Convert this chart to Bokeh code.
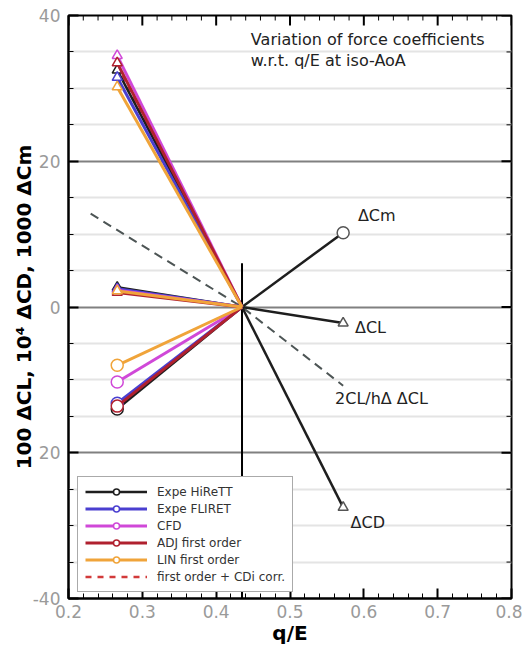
import math
from bokeh.plotting import figure
from bokeh.models import FixedTicker, Legend, LegendItem
from bokeh.core.properties import value
from bokeh.embed import file_html
from bokeh.resources import INLINE

# ---------------- data ----------------
series = ["Expe HiReTT", "Expe FLIRET", "CFD", "ADJ first order", "LIN first order"]
colors = ["#1e1e1e", "#4a3fd0", "#d048d8", "#b0202e", "#f0a43a"]
q_left = 0.266
q_center = 0.435
q_right = 0.572
cd_left = [32.5, 31.5, 34.5, 33.5, 30.2]
cl_left = [2.7, 2.5, 2.3, 2.0, 2.2]
cm_left = [-14.0, -13.2, -10.3, -13.6, -8.0]
right_labels = ["ΔCm", "ΔCL", "ΔCD"]
right_values = [10.2, -2.2, -27.5]
right_markers = ["circle", "triangle", "triangle"]
dash_q = [0.23, 0.435, 0.572]
dash_y = [12.8, 0.0, -10.8]
vline_y = [6.0, -40.0]
corr_label = "first order + CDi corr."
corr_color = "#d23a3a"
corr_cd_left = 33.2
title_lines = ["Variation of force coefficients", "w.r.t. q/E at iso-AoA"]
x_min, x_max = 0.2, 0.8
y_min, y_max = -40, 40
x_ticks = [0.2, 0.3, 0.4, 0.5, 0.6, 0.7, 0.8]
x_minor = [round(0.2 + 0.02 * i, 2) for i in range(31) if i % 5 != 0]
y_ticks = [-40, -20, 0, 20, 40]
y_tick_labels = ["-40", "20", "0", "20", "40"]
y_minor = [v for v in range(-40, 41, 5) if v not in y_ticks]
annot_text = ["ΔCm", "ΔCL", "2CL/hΔ ΔCL", "ΔCD"]
annot_q = [0.592, 0.588, 0.561, 0.582]
annot_y = [12.6, -2.8, -12.6, -29.6]

FONT = "DejaVu Sans"

p = figure(width=522, height=648, x_range=(x_min, x_max), y_range=(y_min, y_max),
           output_backend="svg", toolbar_location=None, title=None,
           min_border_left=68, min_border_right=11, min_border_top=15,
           min_border_bottom=50,
           x_axis_label="q/E", y_axis_label="100 ΔCL, 10⁴ ΔCD, 1000 ΔCm")
p.background_fill_color = "white"
p.border_fill_color = "white"
p.outline_line_color = "black"
p.outline_line_width = 2

xt = FixedTicker(ticks=x_ticks, minor_ticks=x_minor)
yt = FixedTicker(ticks=y_ticks, minor_ticks=y_minor)

for ax in (p.xaxis[0], p.yaxis[0]):
    ax.axis_line_color = "black"
    ax.axis_line_width = 2
    ax.major_tick_in = 10
    ax.major_tick_out = 0
    ax.minor_tick_in = 5
    ax.minor_tick_out = 0
    ax.major_tick_line_color = "black"
    ax.major_tick_line_width = 2
    ax.minor_tick_line_color = "black"
    ax.minor_tick_line_width = 1
    ax.major_label_text_font = FONT
    ax.major_label_text_font_size = "17px"
    ax.major_label_text_color = "#9a9a9a"
    ax.axis_label_text_font = FONT
    ax.axis_label_text_font_size = "20px"
    ax.axis_label_text_font_style = "bold"
    ax.axis_label_text_color = "black"

p.xaxis.ticker = xt
p.yaxis.ticker = yt
p.xaxis.formatter.use_scientific = False
p.yaxis.major_label_overrides = {t: l for t, l in zip(y_ticks, y_tick_labels)}
p.xaxis.major_label_standoff = 6
p.xaxis.axis_label_standoff = 0
p.yaxis.major_label_standoff = 8
p.yaxis.axis_label_standoff = -6

p.xgrid.visible = False
p.ygrid.ticker = yt
p.ygrid.grid_line_color = "#808080"
p.ygrid.grid_line_width = 2
p.ygrid.minor_grid_line_color = "#e4e4e4"
p.ygrid.minor_grid_line_width = 2

# mirrored inward ticks on top and right edges
p.ray(x=x_ticks, y=[y_max] * len(x_ticks), length=10, length_units="screen",
      angle=-math.pi / 2, line_color="black", line_width=2)
p.ray(x=x_minor, y=[y_max] * len(x_minor), length=5, length_units="screen",
      angle=-math.pi / 2, line_color="black", line_width=1)
p.ray(x=[x_max] * len(y_ticks), y=y_ticks, length=10, length_units="screen",
      angle=math.pi, line_color="black", line_width=2)
p.ray(x=[x_max] * len(y_minor), y=y_minor, length=5, length_units="screen",
      angle=math.pi, line_color="black", line_width=1)

# vertical reference line through the convergence point
p.line([q_center, q_center], vline_y, line_color="black", line_width=2)

# dashed theoretical line
p.line(dash_q, dash_y, line_color="#4d5555", line_width=2, line_dash="9 6")

# first order + CDi correction (hidden under the bundle)
corr = p.line([q_left, q_center], [corr_cd_left, 0.0], line_color=corr_color,
              line_width=2.5, line_dash="6 6")

legend_items = []
for i, (name, col) in enumerate(zip(series, colors)):
    xs = [[q_left, q_center], [q_left, q_center], [q_left, q_center]]
    ys = [[cd_left[i], 0.0], [cl_left[i], 0.0], [cm_left[i], 0.0]]
    if i == 0:
        for rv in right_values:
            xs.append([q_center, q_right])
            ys.append([0.0, rv])
    lw = 2.5 if i == 0 else 3
    ml = p.multi_line(xs, ys, line_color=col, line_width=lw)
    p.scatter([q_left, q_left], [cd_left[i], cl_left[i]], marker="triangle",
              size=10, fill_color="white", line_color=col, line_width=1.5)
    circ = p.scatter([q_left], [cm_left[i]], marker="circle", size=12,
                     fill_color="white", line_color=col, line_width=1.5)
    legend_items.append(LegendItem(label=name, renderers=[ml, circ]))

for rv, mk in zip(right_values, right_markers):
    p.scatter([q_right], [rv], marker=mk, size=12 if mk == "circle" else 10,
              fill_color="white", line_color="#555555", line_width=1.5)

legend_items.append(LegendItem(label=corr_label, renderers=[corr]))

# annotations
p.text(annot_q, annot_y, text=annot_text, text_font=value(FONT),
       text_font_size="16px", text_color="#222222", text_baseline="middle",
       text_align="left")
p.text([0.447, 0.447], [36.7, 33.8], text=title_lines, text_font=value(FONT),
       text_font_size="16px", text_color="#222222", text_baseline="middle",
       text_align="left")

legend = Legend(items=legend_items, location=(9, 6))
legend.label_text_font = FONT
legend.label_text_font_size = "12px"
legend.label_text_color = "#333333"
legend.glyph_width = 62
legend.glyph_height = 15
legend.label_height = 15
legend.spacing = 2
legend.padding = 7
legend.margin = 0
legend.label_standoff = 10
legend.border_line_color = "#555555"
legend.border_line_width = 1
legend.background_fill_color = "white"
legend.background_fill_alpha = 1.0
p.add_layout(legend, "center")

open("out.html", "w").write(file_html(p, INLINE))
